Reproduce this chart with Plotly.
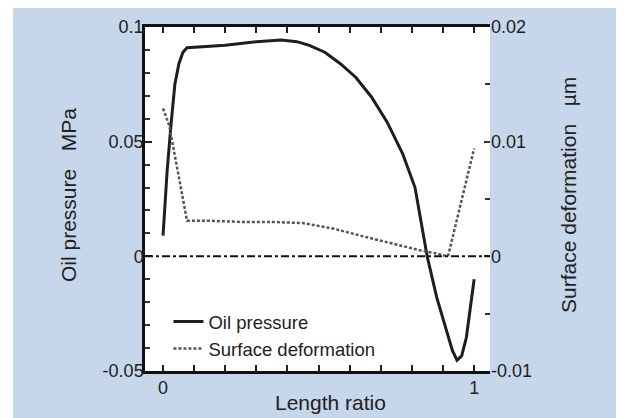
import plotly.graph_objects as go

# Data
length_ratio_p = [0, 0.013, 0.026, 0.038, 0.051, 0.064, 0.077, 0.2, 0.3, 0.38, 0.43, 0.47,
                  0.52, 0.57, 0.62, 0.67, 0.72, 0.77, 0.81, 0.849, 0.88, 0.91, 0.93, 0.945,
                  0.96, 0.975, 0.99, 1.0]
oil_pressure = [0.009, 0.037, 0.058, 0.075, 0.084, 0.089, 0.091, 0.092, 0.0936, 0.0943, 0.0936,
                0.092, 0.089, 0.084, 0.078, 0.0695, 0.0586, 0.0448, 0.030, 0.0, -0.018,
                -0.0325, -0.041, -0.0453, -0.0434, -0.0354, -0.021, -0.010]

length_ratio_d = [0, 0.02, 0.077, 0.15, 0.25, 0.35, 0.45, 0.55, 0.65, 0.75, 0.83, 0.87, 0.916, 1.0]
surface_deformation = [0.0129, 0.0114, 0.0031, 0.0031, 0.0030, 0.0030, 0.0029, 0.0024, 0.0017,
                       0.0010, 0.0005, 0.0003, 0.0, 0.0094]

x_ticks = [round(i * 0.1, 1) for i in range(11)]
x_ticktext = ["0", "", "", "", "", "", "", "", "", "", "1"]
y1_ticks = [-0.05, 0, 0.05, 0.1]
y1_ticktext = ["-0.05", "0", "0.05", "0.1"]
y2_ticks = [-0.01, 0, 0.01, 0.02]
y2_ticktext = ["-0.01", "0", "0.01", "0.02"]

BLUE = "#c6d6eb"
FONT = "Liberation Sans, Arial, sans-serif"
NB = "\u00a0\u00a0\u00a0"

fig = go.Figure()
fig.add_trace(go.Scatter(x=length_ratio_p, y=oil_pressure, mode="lines", name="Oil pressure",
                         line=dict(color="#1e1e1e", width=3), yaxis="y"))
fig.add_trace(go.Scatter(x=length_ratio_d, y=surface_deformation, mode="lines",
                         name="Surface deformation",
                         line=dict(color="#555555", width=2.5, dash="3px,2px"), yaxis="y2"))

fig.update_layout(
    width=616, height=410,
    margin=dict(l=137, r=134, t=19, b=47, autoexpand=False),
    paper_bgcolor=BLUE, plot_bgcolor="white",
    font=dict(family=FONT, color="#222222", size=18),
    showlegend=True,
    legend=dict(x=0.068, y=0.198, xanchor="left", yanchor="top", bgcolor="rgba(0,0,0,0)",
                font=dict(size=18.5), tracegroupgap=0),
    xaxis=dict(range=[-0.058, 1.051], tickmode="array", tickvals=x_ticks, ticktext=x_ticktext,
               ticks="inside", ticklen=6, tickwidth=2, tickcolor="#222",
               showline=True, linewidth=3, linecolor="#111", mirror="ticks",
               showgrid=False, zeroline=False, automargin=False, ticklabelstandoff=-2),
    yaxis=dict(range=[-0.05, 0.1], tickmode="array", tickvals=y1_ticks, ticktext=y1_ticktext,
               ticks="inside", ticklen=7, tickwidth=2, tickcolor="#222",
               minor=dict(dtick=0.01, tick0=0, ticks="inside", ticklen=5, tickwidth=2,
                          tickcolor="#333", showgrid=False),
               showline=True, linewidth=2.5, linecolor="#111",
               showgrid=False, zeroline=False, automargin=False, ticklabelstandoff=-5),
    yaxis2=dict(range=[-0.01, 0.02], overlaying="y", side="right",
                tickmode="array", tickvals=y2_ticks, ticktext=y2_ticktext,
                ticks="inside", ticklen=6, tickwidth=2, tickcolor="#333",
                minor=dict(dtick=0.005, tick0=0, ticks="inside", ticklen=5, tickwidth=2,
                           tickcolor="#333", showgrid=False),
                showline=False, showgrid=False, zeroline=False, automargin=False),
    annotations=[
        dict(text="Oil pressure" + NB + "MPa", xref="paper", yref="paper", x=-0.2232, y=0.5116,
             textangle=-90, showarrow=False, font=dict(size=21), xanchor="center", yanchor="middle"),
        dict(text="Surface deformation" + NB + "\u00b5m", xref="paper", yref="paper", x=1.226,
             y=0.5116, textangle=-90, showarrow=False, font=dict(size=21),
             xanchor="center", yanchor="middle"),
        dict(text="Length ratio", xref="paper", yref="paper", x=0.539, y=-0.093,
             showarrow=False, font=dict(size=21), xanchor="center", yanchor="middle"),
    ],
    shapes=[
        dict(type="rect", xref="paper", yref="paper", x0=-0.5, x1=-0.3826, y0=-0.5, y1=1.5,
             fillcolor="white", line=dict(width=0), layer="below"),
        dict(type="line", xref="paper", yref="y", x0=0, x1=1, y0=0, y1=0,
             line=dict(color="#111", width=2, dash="8px,3px,3px,3px")),
    ],
)

fig.write_html("out.html")
